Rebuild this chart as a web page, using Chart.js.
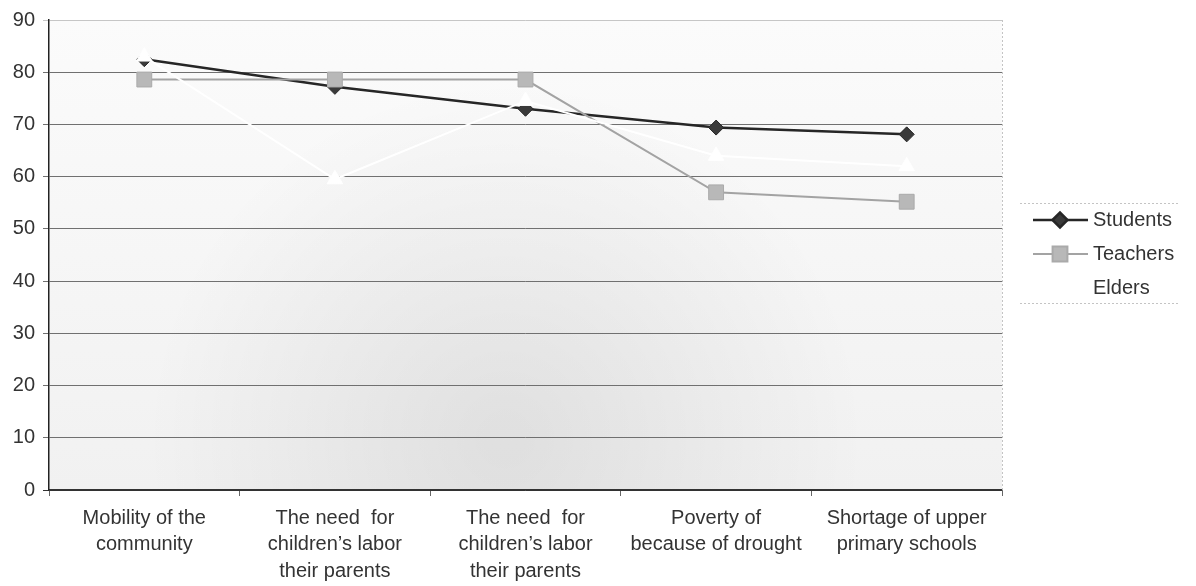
<!DOCTYPE html>
<html>
<head>
<meta charset="utf-8">
<script src="https://cdn.jsdelivr.net/npm/chart.js@4/dist/chart.umd.min.js"></script>
<style>
  html, body { margin: 0; padding: 0; background: #ffffff; }
  #wrap { width: 1196px; height: 586px; }
</style>
</head>
<body>
<div id="wrap"><canvas id="c" width="1196" height="586"></canvas></div>
<script>
// Reasons for dropping out, share of respondents (%)
const categories = [
  ["Mobility of the", "community"],
  ["The need  for", "children’s labor", "their parents"],
  ["The need  for", "children’s labor", "their parents"],
  ["Poverty of", "because of drought"],
  ["Shortage of upper", "primary schools"]
];
const seriesNames = ["Students", "Teachers", "Elders"];
const students = [82.5, 77.2, 73.0, 69.4, 68.1];
const teachers = [78.6, 78.6, 78.6, 57.0, 55.2];
const elders   = [83.0, 59.5, 74.5, 64.0, 62.0];
const yMin = 0, yMax = 90, yStep = 10;

const FONT = "'Liberation Sans', Arial, Helvetica, sans-serif";

// Shaded plot background and the light right-hand border
const plotBackground = {
  id: 'plotBackground',
  beforeDraw(chart) {
    const { ctx, chartArea: a } = chart;
    ctx.save();
    const lg = ctx.createLinearGradient(0, a.top, 0, a.bottom);
    lg.addColorStop(0, '#fbfbfb');
    lg.addColorStop(1, '#f1f1f1');
    ctx.fillStyle = lg;
    ctx.fillRect(a.left, a.top, a.right - a.left, a.bottom - a.top);
    const cx = (a.left + a.right) / 2 - 20, cy = a.bottom - 50;
    const rg = ctx.createRadialGradient(cx, cy, 20, cx, cy, 360);
    rg.addColorStop(0, 'rgba(0,0,0,0.075)');
    rg.addColorStop(1, 'rgba(0,0,0,0)');
    ctx.fillStyle = rg;
    ctx.fillRect(a.left, a.top, a.right - a.left, a.bottom - a.top);
    ctx.restore();
  },
  afterDatasetsDraw(chart) {
    const { ctx, chartArea: a } = chart;
    ctx.save();
    ctx.strokeStyle = '#c4c4c4';
    ctx.lineWidth = 1;
    ctx.setLineDash([2, 2]);
    ctx.beginPath();
    ctx.moveTo(a.right + 0.5, a.top);
    ctx.lineTo(a.right + 0.5, a.bottom);
    ctx.stroke();
    ctx.restore();
  }
};

// Legend on the right: line sample with marker, then the series name
const sideLegend = {
  id: 'sideLegend',
  afterDraw(chart) {
    const { ctx } = chart;
    const x0 = 1033, x1 = 1088, mx = 1060, tx = 1093;
    const rows = [220, 254, 288];
    ctx.save();
    ctx.strokeStyle = '#c4c4c4';
    ctx.lineWidth = 1;
    ctx.setLineDash([2, 2]);
    ctx.beginPath();
    ctx.moveTo(1020, 203.5); ctx.lineTo(1180, 203.5);
    ctx.moveTo(1020, 303.5); ctx.lineTo(1180, 303.5);
    ctx.stroke();
    ctx.setLineDash([]);
    chart.data.datasets.forEach((ds, i) => {
      const y = rows[i];
      ctx.strokeStyle = ds.borderColor;
      ctx.lineWidth = ds.borderWidth;
      ctx.beginPath();
      ctx.moveTo(x0, y); ctx.lineTo(x1, y);
      ctx.stroke();
      ctx.fillStyle = ds.pointBackgroundColor;
      ctx.strokeStyle = ds.pointBorderColor;
      Chart.helpers.drawPoint(ctx, {
        pointStyle: ds.pointStyle,
        radius: ds.pointRadius,
        borderWidth: 1
      }, mx, y);
      ctx.fillStyle = '#333333';
      ctx.font = '20px ' + FONT;
      ctx.textBaseline = 'middle';
      ctx.textAlign = 'left';
      ctx.fillText(ds.label, tx, y);
    });
    ctx.restore();
  }
};

new Chart(document.getElementById('c'), {
  type: 'line',
  data: {
    labels: categories,
    datasets: [
      {
        label: seriesNames[0],
        data: students,
        borderColor: '#262626',
        borderWidth: 2.5,
        pointStyle: 'rectRot',
        pointRadius: 7.5,
        pointBackgroundColor: '#3a3a3a',
        pointBorderColor: '#262626',
        pointBorderWidth: 1,
        order: 3
      },
      {
        label: seriesNames[1],
        data: teachers,
        borderColor: '#a3a3a3',
        borderWidth: 2,
        pointStyle: 'rect',
        pointRadius: 10.5,
        pointBackgroundColor: '#b8b8b8',
        pointBorderColor: '#aaaaaa',
        pointBorderWidth: 1,
        order: 2
      },
      {
        label: seriesNames[2],
        data: elders,
        borderColor: '#ffffff',
        borderWidth: 2,
        pointStyle: 'triangle',
        pointRadius: 9,
        pointBackgroundColor: '#ffffff',
        pointBorderColor: '#ffffff',
        pointBorderWidth: 1,
        order: 1
      }
    ]
  },
  options: {
    responsive: false,
    devicePixelRatio: 1,
    animation: false,
    events: [],
    layout: { padding: { top: 16, right: 194, left: 0, bottom: 0 } },
    plugins: {
      legend: { display: false },
      tooltip: { enabled: false }
    },
    elements: { line: { tension: 0 } },
    scales: {
      x: {
        type: 'category',
        offset: true,
        grid: {
          offset: true,
          drawOnChartArea: false,
          drawTicks: true,
          tickLength: 6,
          color: '#666666'
        },
        border: { color: '#333333', width: 1.5 },
        ticks: {
          color: '#333333',
          font: { family: FONT, size: 20, lineHeight: 1.32 },
          padding: 9,
          maxRotation: 0,
          autoSkip: false
        },
        afterFit(s) { s.height = 96; }
      },
      y: {
        min: yMin,
        max: yMax,
        ticks: {
          stepSize: yStep,
          color: '#333333',
          font: { family: FONT, size: 20 },
          padding: 8
        },
        grid: {
          color: (c) => c.tick && c.tick.value === yMax ? '#c6c6c6'
                      : (c.tick && c.tick.value === yMin ? '#333333' : '#707070'),
          lineWidth: 1,
          tickLength: 6
        },
        border: { color: '#222222', width: 1.5 },
        afterFit(s) { s.width = 49; }
      }
    }
  },
  plugins: [plotBackground, sideLegend]
});
</script>
</body>
</html>
